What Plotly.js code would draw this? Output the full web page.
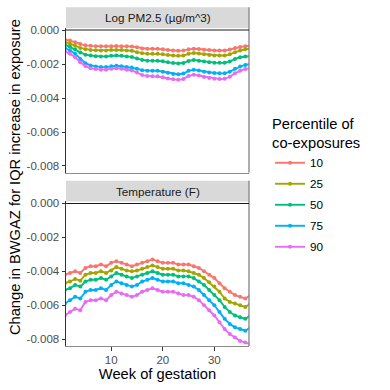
<!DOCTYPE html>
<html>
<head>
<meta charset="utf-8">
<script src="https://cdn.plot.ly/plotly-3.0.1.min.js"></script>
<style>
  html, body { margin: 0; padding: 0; background: #fff; }
  #chart { width: 390px; height: 390px; }
</style>
</head>
<body>
<div id="chart"></div>
<script>
// --- Data ---
const weeks = [1,2,3,4,5,6,7,8,9,10,11,12,13,14,15,16,17,18,19,20,21,22,23,24,25,26,27,28,29,30,31,32,33,34,35,36,37];
const percentiles = ['10', '25', '50', '75', '90'];
const panelTitles = ['Log PM2.5 (µg/m^3)', 'Temperature (F)'];
const yTicks = [0, -0.002, -0.004, -0.006, -0.008];
const yTickText = ['0.000', '-0.002', '-0.004', '-0.006', '-0.008'];

// Log PM2.5 panel
const pm10 = [-0.00055,-0.00062,-0.00072,-0.00082,-0.0009,-0.00093,-0.00095,-0.00096,-0.00096,-0.00095,-0.00094,-0.00095,-0.00096,-0.00097,-0.00102,-0.00108,-0.0011,-0.0011,-0.0011,-0.00113,-0.00117,-0.0012,-0.00122,-0.0012,-0.00113,-0.0011,-0.00112,-0.00116,-0.00118,-0.0012,-0.0012,-0.0012,-0.00115,-0.00106,-0.001,-0.00095,-0.00092];
const pm25 = [-0.0007,-0.0008,-0.00092,-0.00105,-0.00113,-0.00117,-0.00119,-0.0012,-0.0012,-0.00118,-0.00117,-0.00118,-0.0012,-0.00122,-0.0013,-0.00137,-0.0014,-0.0014,-0.0014,-0.00143,-0.00147,-0.0015,-0.00152,-0.0015,-0.0014,-0.00135,-0.00138,-0.00143,-0.00147,-0.0015,-0.0015,-0.0015,-0.00143,-0.0013,-0.0012,-0.00113,-0.0011];
const pm50 = [-0.00085,-0.00098,-0.00115,-0.00132,-0.00145,-0.0015,-0.00154,-0.00155,-0.00155,-0.00152,-0.0015,-0.00152,-0.00155,-0.00158,-0.00168,-0.00176,-0.0018,-0.0018,-0.0018,-0.00184,-0.0019,-0.00194,-0.00197,-0.00194,-0.00182,-0.00176,-0.0018,-0.00185,-0.0019,-0.00192,-0.00193,-0.00193,-0.00185,-0.0017,-0.0016,-0.00155,-0.00153];
const pm75 = [-0.00105,-0.0012,-0.0014,-0.0017,-0.00195,-0.00208,-0.00215,-0.00218,-0.00218,-0.00213,-0.0021,-0.00213,-0.00218,-0.0022,-0.00228,-0.00236,-0.0024,-0.0024,-0.0024,-0.00245,-0.00252,-0.00258,-0.0026,-0.00256,-0.0024,-0.00233,-0.00238,-0.00245,-0.0025,-0.00253,-0.00255,-0.00255,-0.00245,-0.00228,-0.00215,-0.00205,-0.002];
const pm90 = [-0.00125,-0.0014,-0.0016,-0.0019,-0.00212,-0.00225,-0.0023,-0.00233,-0.00233,-0.00228,-0.00225,-0.00228,-0.00233,-0.00238,-0.0025,-0.00265,-0.0027,-0.00272,-0.00272,-0.00278,-0.00285,-0.0029,-0.00293,-0.00288,-0.0027,-0.00263,-0.00268,-0.00276,-0.00282,-0.00286,-0.00288,-0.00287,-0.00275,-0.00255,-0.0024,-0.0023,-0.00224];

// Temperature panel
const tp10 = [-0.0042,-0.0041,-0.0040,-0.0041,-0.0038,-0.0037,-0.0037,-0.0036,-0.0037,-0.0035,-0.0034,-0.0035,-0.0036,-0.0037,-0.0036,-0.0035,-0.0034,-0.0033,-0.0034,-0.0035,-0.0035,-0.0035,-0.0036,-0.0036,-0.0036,-0.0037,-0.0038,-0.0040,-0.0042,-0.0044,-0.0047,-0.0050,-0.0052,-0.0054,-0.0055,-0.0056,-0.0054];
const tp25 = [-0.0047,-0.0046,-0.00445,-0.00455,-0.0042,-0.0041,-0.0041,-0.0040,-0.0041,-0.00395,-0.00375,-0.00385,-0.00395,-0.0040,-0.00395,-0.00385,-0.00375,-0.00365,-0.00375,-0.00385,-0.00385,-0.00385,-0.00395,-0.00395,-0.0040,-0.0041,-0.0042,-0.0044,-0.00465,-0.0049,-0.0052,-0.0056,-0.0058,-0.0059,-0.0060,-0.0061,-0.0059];
const tp50 = [-0.0051,-0.0050,-0.0048,-0.0049,-0.0046,-0.0045,-0.0045,-0.0044,-0.0045,-0.0043,-0.0041,-0.0042,-0.0043,-0.0044,-0.0043,-0.0042,-0.0041,-0.0040,-0.0041,-0.0042,-0.0042,-0.0042,-0.0043,-0.0043,-0.0043,-0.0044,-0.0046,-0.0048,-0.0051,-0.0054,-0.0057,-0.0061,-0.0064,-0.0066,-0.0067,-0.0068,-0.0066];
const tp75 = [-0.0059,-0.0057,-0.0055,-0.0056,-0.0052,-0.0051,-0.0051,-0.0050,-0.0051,-0.0048,-0.0046,-0.0047,-0.0048,-0.0049,-0.0048,-0.0046,-0.0045,-0.0044,-0.0045,-0.0046,-0.0046,-0.0046,-0.0047,-0.0047,-0.0048,-0.0049,-0.0051,-0.0054,-0.0057,-0.0060,-0.0064,-0.0068,-0.0071,-0.0073,-0.0074,-0.0075,-0.0073];
const tp90 = [-0.0066,-0.0064,-0.0062,-0.0063,-0.0058,-0.0057,-0.0057,-0.0056,-0.0057,-0.0054,-0.0052,-0.0053,-0.0054,-0.0055,-0.0054,-0.0052,-0.0051,-0.0050,-0.0051,-0.0052,-0.0052,-0.0052,-0.0053,-0.0054,-0.0054,-0.0055,-0.0057,-0.0060,-0.0063,-0.0066,-0.0070,-0.0074,-0.0077,-0.0079,-0.0081,-0.0082,-0.0083];

const colors = ['#F8766D', '#A3A500', '#00BF7D', '#00B0F6', '#E76BF3'];

const pmSeries = [pm10, pm25, pm50, pm75, pm90];
const tempSeries = [tp10, tp25, tp50, tp75, tp90];

// --- Traces ---
const traces = [];
percentiles.forEach((p, i) => {
    traces.push({
        x: weeks, y: pmSeries[i], xaxis: 'x', yaxis: 'y',
        type: 'scatter', mode: 'lines+markers', name: p,
        legendgroup: p, showlegend: true,
        line: { color: colors[i], width: 1.9 },
        marker: { color: colors[i], size: 4 }
    });
    traces.push({
        x: weeks, y: tempSeries[i], xaxis: 'x2', yaxis: 'y2',
        type: 'scatter', mode: 'lines+markers', name: p,
        legendgroup: p, showlegend: false,
        line: { color: colors[i], width: 1.9 },
        marker: { color: colors[i], size: 4 }
    });
});

// --- Layout ---
const font = 'Liberation Sans, Arial, sans-serif';
const xRange = [1.23, 36.72];
const yRange = [-0.0084, 0.00012];
const topDomain = [0.5447, 1];
const botDomain = [0, 0.4547];
const stripH = 0.065;

const yAxisBase = {
    range: yRange, tickvals: yTicks, ticktext: yTickText,
    showgrid: false, zeroline: false,
    showline: true, linecolor: '#333333', linewidth: 1,
    ticks: 'outside', ticklen: 3.5, tickcolor: '#333333', tickwidth: 1,
    tickfont: { family: font, size: 11.5, color: '#4D4D4D' }
};

const shapes = [];
const annotations = [];
[topDomain, botDomain].forEach((dom, k) => {
    // strip background
    shapes.push({ type: 'rect', xref: 'paper', yref: 'paper', x0: 0, x1: 1,
        y0: dom[1], y1: dom[1] + stripH, fillcolor: '#D9D9D9', line: { width: 0 }, layer: 'below' });
    // right border
    shapes.push({ type: 'line', xref: 'paper', yref: 'paper', x0: 1, x1: 1,
        y0: dom[0], y1: dom[1] + stripH, line: { color: '#8C8C8C', width: 1.4 } });
    // zero line
    shapes.push({ type: 'line', xref: k === 0 ? 'x domain' : 'x2 domain', yref: k === 0 ? 'y' : 'y2',
        x0: 0, x1: 1, y0: 0, y1: 0, line: { color: '#1A1A1A', width: 1.1 } });
    annotations.push({ text: panelTitles[k], xref: 'paper', yref: 'paper', x: 0.5,
        y: dom[1] + stripH / 2, showarrow: false, xanchor: 'center', yanchor: 'middle',
        font: { family: font, size: 11.7, color: '#1A1A1A' } });
});
annotations.push({ text: 'Change in BWGAZ for IQR increase in exposure', xref: 'paper', yref: 'paper',
    x: -0.279, y: 0.531, textangle: -90, showarrow: false, xanchor: 'center', yanchor: 'middle',
    font: { family: font, size: 14.7, color: '#000000' } });

const layout = {
    width: 390, height: 390,
    margin: { l: 66, r: 141, t: 28, b: 44, pad: 0 },
    paper_bgcolor: '#FFFFFF', plot_bgcolor: '#FFFFFF',
    showlegend: true,
    xaxis: { range: xRange, domain: [0, 1], anchor: 'y', showticklabels: false, ticks: '',
        showgrid: false, zeroline: false, showline: true, linecolor: '#8C8C8C', linewidth: 1 },
    xaxis2: { range: xRange, domain: [0, 1], anchor: 'y2', tickvals: [10, 20, 30],
        showgrid: false, zeroline: false, showline: true, linecolor: '#8C8C8C', linewidth: 1,
        ticks: 'outside', ticklen: 3.5, tickcolor: '#333333', tickwidth: 1,
        tickfont: { family: font, size: 11.5, color: '#4D4D4D' },
        title: { text: 'Week of gestation', standoff: 2, font: { family: font, size: 14.7, color: '#000000' } } },
    yaxis: Object.assign({}, yAxisBase, { domain: topDomain, anchor: 'x' }),
    yaxis2: Object.assign({}, yAxisBase, { domain: botDomain, anchor: 'x2' }),
    legend: {
        x: 1.115, y: 0.742, xanchor: 'left', yanchor: 'top',
        title: { text: 'Percentile of<br>co-exposures', font: { family: font, size: 14.7, color: '#000000' } },
        font: { family: font, size: 11.7, color: '#000000' },
        tracegroupgap: 2, itemwidth: 30, bgcolor: 'rgba(0,0,0,0)'
    },
    shapes: shapes,
    annotations: annotations
};

Plotly.newPlot('chart', traces, layout, { staticPlot: true, displayModeBar: false });
</script>
</body>
</html>
